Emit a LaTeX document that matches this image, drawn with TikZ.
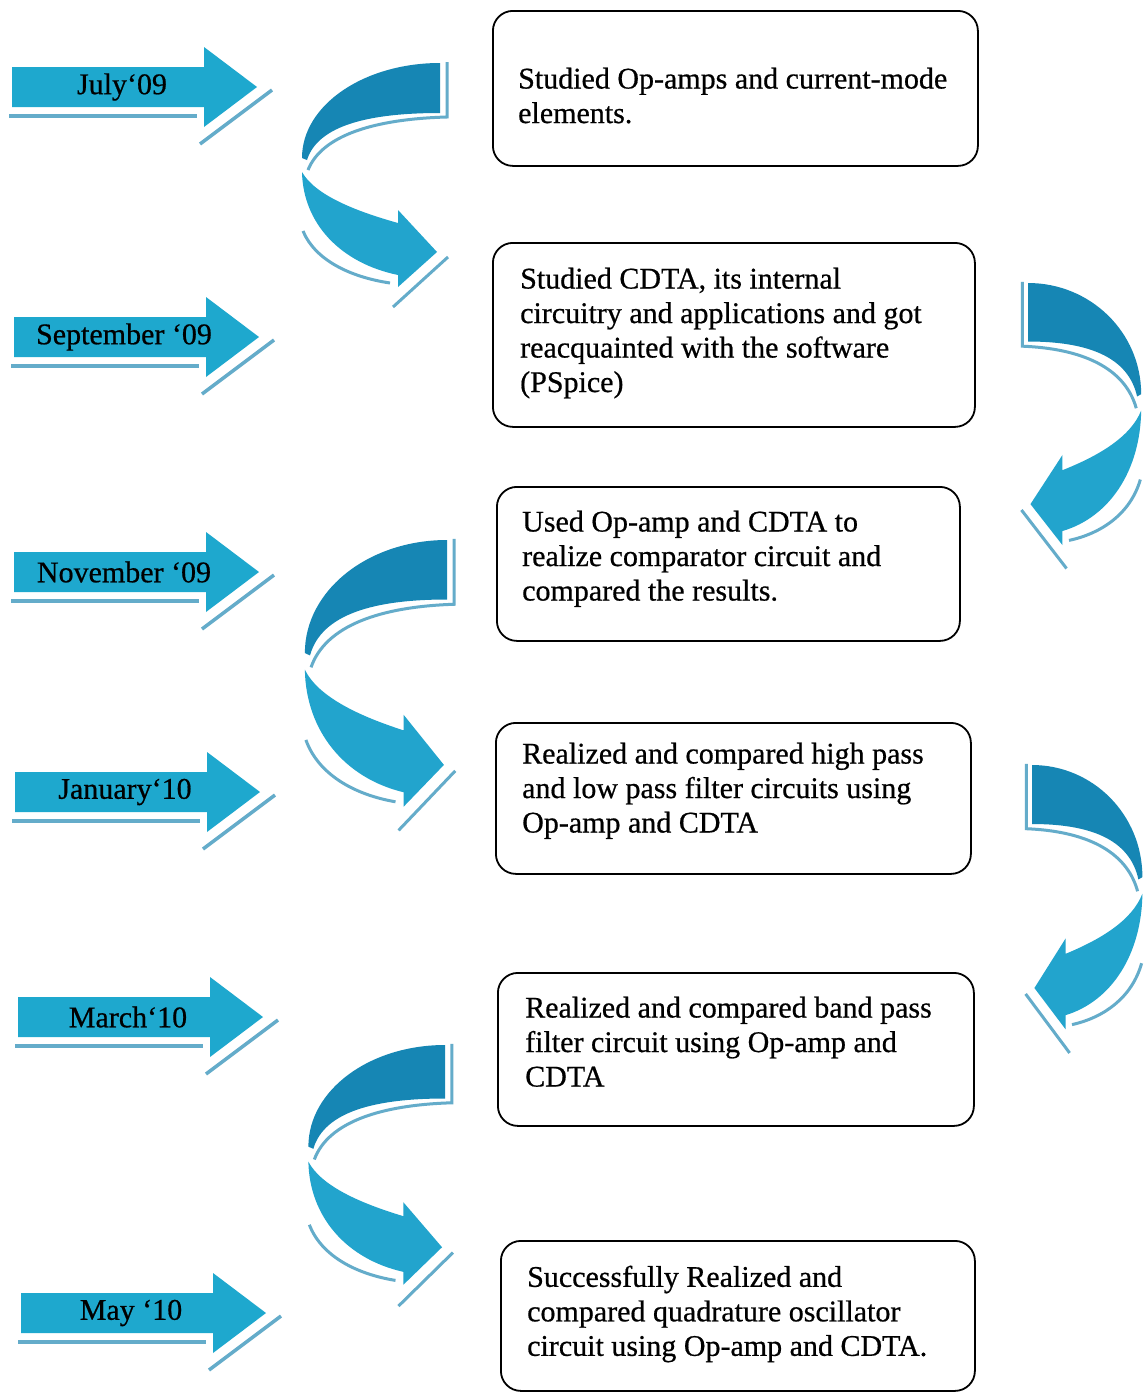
\documentclass[tikz,border=0pt]{standalone}
\usepackage{fontspec}
\setmainfont{Liberation Serif}[FakeBold=0.6]
\definecolor{arrowblue}{RGB}{30,168,206}
\definecolor{ribbondark}{RGB}{22,134,180}
\definecolor{ribbonlight}{RGB}{34,164,205}
\definecolor{shadowblue}{RGB}{100,172,202}
\tikzset{
  box/.style={draw=black, line width=1.8pt, rounded corners=20pt, anchor=north west, inner sep=0pt},
  boxtext/.style={anchor=north west, inner sep=0pt, align=left, font=\fontsize{30}{34.5}\selectfont},
  monthlabel/.style={inner sep=0pt, font=\fontsize{30}{36}\selectfont},
  shadowline/.style={draw=shadowblue, line width=3.5pt},
  thinshadow/.style={draw=shadowblue, line width=3pt},
}
% straight month arrow: left x, centre y, node name, label
\newcommand\montharrow[4]{%
  \fill[arrowblue] ({#1},{#2-20}) -- ({#1+192},{#2-20}) -- ({#1+192},{#2-40}) -- ({#1+245},{#2})
     -- ({#1+192},{#2+40}) -- ({#1+192},{#2+20}) -- ({#1},{#2+20}) -- cycle;
  \draw[shadowline] ({#1-3},{#2+29}) -- ({#1+185},{#2+29});
  \draw[shadowline] ({#1+188},{#2+57}) -- ({#1+260},{#2+3});
  \node[monthlabel] (#3) at ({#1+110},{#2}) {#4};
}
% curved ribbon arrow: anchor x, y, xscale, yscale
\newcommand\ribbonarrow[4]{%
  \begin{scope}[shift={(#1,#2)}, xscale=#3, yscale=#4]
    \fill[ribbondark] (0,0) .. controls (-76,0) and (-138,42) .. (-138,95) -- (-133,97)
       .. controls (-122,62) and (-70,50) .. (0,50) -- cycle;
    \draw[thinshadow] (-132,107) .. controls (-118,72) and (-65,56) .. (7,54) -- (7,-1);
    \fill[ribbonlight] (-138,109) .. controls (-137,160) and (-100,200) .. (-42,212)
       -- (-42,224) -- (-3,189) -- (-42,147) -- (-42,160)
       .. controls (-85,148) and (-125,132) .. (-138,109) -- cycle;
    \draw[thinshadow] (-137,168) .. controls (-125,197) and (-90,214) .. (-50,220);
    \draw[thinshadow] (-47,244) -- (8,194);
  \end{scope}
}
\begin{document}
\begin{tikzpicture}[x=1pt,y=-1pt]
\useasboundingbox[fill=white] (0,0) rectangle (1148,1392);

% month arrows
\montharrow{12}{87}{m1}{July‘09}
\montharrow{14}{337}{m2}{September ‘09}
\montharrow{14}{572}{m3}{November ‘09}
\montharrow{15}{792}{m4}{January‘10}
\montharrow{18}{1017}{m5}{March‘10}
\montharrow{21}{1313}{m6}{May ‘10}

% curved arrows between boxes
\ribbonarrow{440}{63}{1}{1}
\ribbonarrow{447}{540}{1.03}{1.19}
\ribbonarrow{445}{1045}{0.99}{1.07}
\ribbonarrow{1028}{283}{-0.82}{1.17}
\ribbonarrow{1032}{765}{-0.80}{1.18}

% boxes
\node[box, minimum width=485pt, minimum height=155pt] (b1) at (492,10) {};
\node[box, minimum width=482pt, minimum height=184pt] (b2) at (492,242) {};
\node[box, minimum width=463pt, minimum height=154pt] (b3) at (496,486) {};
\node[box, minimum width=475pt, minimum height=151pt] (b4) at (495,722) {};
\node[box, minimum width=476pt, minimum height=153pt] (b5) at (497,972) {};
\node[box, minimum width=474pt, minimum height=150pt] (b6) at (500,1240) {};

% box texts
\node[boxtext] (t1) at (518,67.5) {Studied Op-amps and current-mode\\elements.};
\node[boxtext] (t2) at (520,267.5) {Studied CDTA, its internal\\circuitry and applications and got\\reacquainted with the software\\(PSpice)};
\node[boxtext] (t3) at (522,510.5) {Used Op-amp and CDTA to\\realize comparator circuit and\\compared the results.};
\node[boxtext] (t4) at (522,742.5) {Realized and compared high pass\\and low pass filter circuits using\\Op-amp and CDTA};
\node[boxtext] (t5) at (525,996.5) {Realized and compared band pass\\filter circuit using Op-amp and\\CDTA};
\node[boxtext] (t6) at (527,1265.5) {Successfully Realized and\\compared quadrature oscillator\\circuit using Op-amp and CDTA.};
\end{tikzpicture}
\end{document}
